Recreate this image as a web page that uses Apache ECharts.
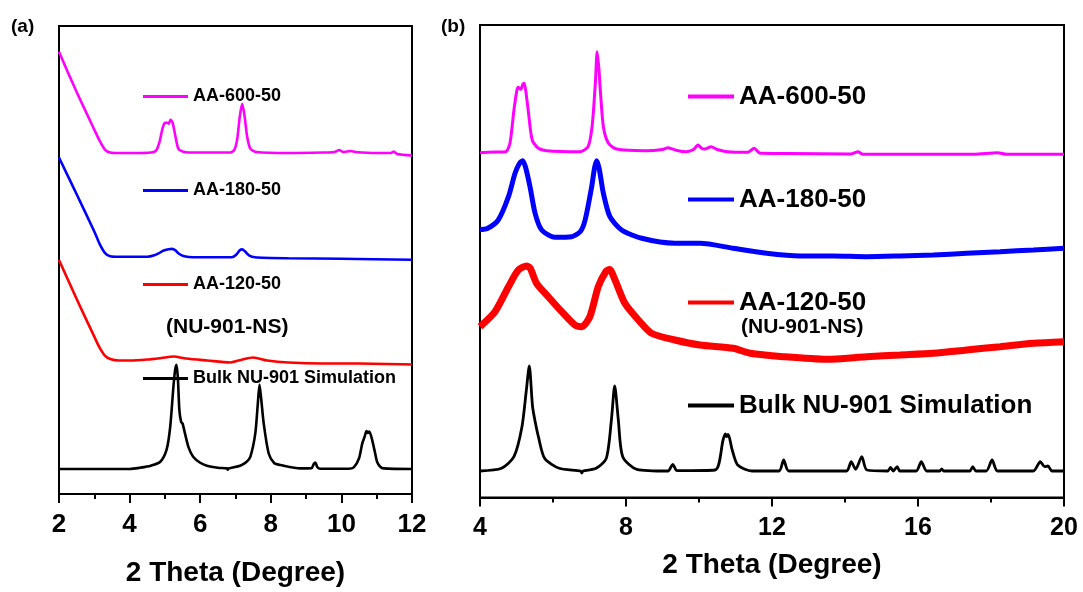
<!DOCTYPE html>
<html>
<head>
<meta charset="utf-8">
<script src="https://cdn.jsdelivr.net/npm/echarts@6/dist/echarts.min.js"></script>
<style>
html,body{margin:0;padding:0;background:#fff;}
#c{width:1083px;height:592px;}
</style>
</head>
<body>
<div id="c"></div>
<script>
// ---------- DATA ----------
const seriesNames = ['AA-600-50', 'AA-180-50', 'AA-120-50', 'Bulk NU-901 Simulation'];
const subNote = '(NU-901-NS)';
const axisTitle = '2 Theta (Degree)';
const panelLabels = ['(a)', '(b)'];

// Panel (a): 2θ = 2–12, intensity (a.u., offset-stacked)
const a600 = [[2.0,445.5],[2.25,425],[2.5,405],[2.75,386],[3.0,367],[3.15,356],[3.3,347],[3.45,344],[3.7,343.5],[4.2,343.5],[4.6,344],[4.75,346],[4.85,355],[4.93,368],[5.0,374],[5.07,374],[5.11,373],[5.16,377],[5.22,374],[5.3,360],[5.38,348],[5.5,345],[5.7,344],[6.5,344],[6.85,344],[6.97,347],[7.05,358],[7.12,380],[7.19,393],[7.26,380],[7.33,360],[7.42,348],[7.6,344.5],[8.5,343.5],[9.5,344],[9.8,344.5],[9.94,346.5],[10.05,344.5],[10.15,345],[10.26,345.5],[10.4,344.5],[11.0,343.5],[11.4,343.5],[11.48,345],[11.58,342.5],[12.0,341]];
const a180 = [[2.0,339],[2.5,302],[3.0,264.5],[3.15,252],[3.3,243],[3.45,239.5],[3.7,239],[4.5,239],[4.7,240.5],[4.85,243],[4.95,245],[5.1,246.5],[5.2,247],[5.3,245.5],[5.4,242],[5.55,239.5],[5.8,238.5],[6.9,238.5],[7.02,241],[7.12,245.5],[7.19,246.5],[7.28,244],[7.38,240.5],[7.55,238.5],[8.5,237.5],[10,237],[12,236]];
const a120 = [[2.0,235.8],[2.5,196.5],[3.0,158.5],[3.15,147.5],[3.3,139.5],[3.45,136],[3.7,134.5],[4.0,134.5],[4.5,135.5],[4.9,137],[5.25,138.5],[5.6,136.5],[6.2,134.5],[6.85,132.5],[7.2,135.5],[7.5,137.5],[7.9,134.5],[8.5,132.5],[9.5,131.5],[10.5,131.5],[12,130.5]];
const aSim = [[2.0,25.2],[4.0,25.2],[4.3,26.5],[4.6,28.5],[4.87,32.5],[5.05,45],[5.15,67.5],[5.24,107.5],[5.29,125],[5.33,130.2],[5.37,115],[5.41,84.5],[5.46,72.5],[5.5,71],[5.57,60.8],[5.67,47],[5.8,37.5],[6.0,31.5],[6.19,28.5],[6.5,26.5],[6.76,25.8],[6.78,24.5],[6.8,25.8],[7.13,28.5],[7.3,32],[7.42,37.5],[7.56,60.8],[7.63,90],[7.68,110.2],[7.73,95],[7.8,70.8],[7.94,40.8],[8.1,31],[8.27,29.2],[8.84,25.8],[9.15,26],[9.22,30.5],[9.26,31.8],[9.32,27],[9.4,25.5],[10.2,25.5],[10.35,26.8],[10.5,36],[10.59,50.8],[10.66,58],[10.71,63.5],[10.75,61.5],[10.79,63],[10.86,56],[10.95,42],[11.01,32.5],[11.1,27.5],[11.2,25.8],[12.0,25.2]];

// Panel (b): 2θ = 4–20
const b600 = [[4.0,344.8],[4.4,345.5],[4.7,345.8],[4.82,354.2],[4.93,387.5],[5.0,405],[5.04,410.2],[5.12,408.2],[5.17,413],[5.21,414.2],[5.26,405],[5.32,387.5],[5.43,357.5],[5.6,349.2],[5.83,346.8],[6.73,345.8],[6.96,350.8],[7.07,370.8],[7.16,414.2],[7.21,445.8],[7.26,428],[7.29,410.8],[7.38,370.8],[7.52,354.2],[7.74,348.5],[8.53,346.8],[9.0,348],[9.15,349.8],[9.4,347],[9.65,345.8],[9.85,348],[9.97,352.5],[10.08,349],[10.16,348.5],[10.33,350.8],[10.5,348],[10.78,345.8],[11.34,345.2],[11.51,349.2],[11.68,344.2],[12.5,344],[14.15,343.5],[14.36,345.8],[14.49,343.2],[16,343.2],[17.53,343.2],[18.18,344.8],[18.43,343.2],[20.0,343.2]];
const b180 = [[4.0,268],[4.2,269],[4.5,277.5],[4.78,300.8],[4.96,324.2],[5.08,334],[5.17,336.8],[5.25,330],[5.37,310.8],[5.51,284.2],[5.69,267.5],[6.05,260.2],[6.51,260.8],[6.75,266],[6.88,277.5],[7.06,310.8],[7.14,330],[7.2,336.8],[7.27,328],[7.38,304.2],[7.56,280.8],[7.88,267.5],[8.43,259.2],[9.34,254.2],[10.03,254.2],[10.94,249.2],[11.85,244.2],[12.77,241.5],[13.68,241.5],[14.59,240.8],[15.51,241.5],[16.42,242.5],[17.33,244.2],[18.25,245.8],[19.16,247.5],[20.0,249.2]];
const b120 = [[4.0,170.8],[4.41,185.8],[4.78,210.8],[5.05,227.5],[5.28,231.5],[5.38,229],[5.55,214.2],[5.87,200.8],[6.24,185.8],[6.6,172.5],[6.79,170.8],[7.01,180.8],[7.24,210.8],[7.45,226],[7.55,228],[7.7,217.5],[7.97,194.2],[8.34,177.5],[8.7,164.2],[9.34,157.5],[10.03,152.5],[10.94,149.2],[11.4,144.2],[12.31,140.8],[13.5,138.2],[14.59,140.8],[15.51,142.5],[16.42,144.2],[17.33,147.5],[18.25,150.8],[19.16,154.2],[20.0,155.8]];
const bSim = [[4.0,26.5],[4.59,29.2],[4.93,40.8],[5.15,70.8],[5.27,107.5],[5.35,131.5],[5.44,90.8],[5.52,74.2],[5.6,60.8],[5.77,39.2],[6.17,29.2],[6.76,26.5],[6.79,24.5],[6.82,26.5],[7.18,29.2],[7.46,39.2],[7.6,77.5],[7.69,111.5],[7.79,77.5],[7.91,40.8],[8.3,28.2],[9.15,26.5],[9.28,33.2],[9.4,26.8],[10.44,27.5],[10.66,57.5],[10.72,63.5],[10.76,61],[10.8,63],[10.91,47.5],[11.06,32.5],[11.45,26.5],[12.19,26.5],[12.32,37.5],[12.46,26.5],[14.04,26.5],[14.17,35.8],[14.29,28.2],[14.46,40.8],[14.6,27.5],[15.17,26.5],[15.25,30.2],[15.32,26.5],[15.43,30.8],[15.5,26.5],[15.95,26.5],[16.09,35.8],[16.24,26.5],[16.6,26.5],[16.65,28.5],[16.7,26.5],[17.42,26.5],[17.5,30.8],[17.59,26.5],[17.87,26.5],[18.03,37.5],[18.18,26.5],[19.16,26.5],[19.35,35.8],[19.47,30.8],[19.56,31.5],[19.67,26.5],[20.0,26.5]];

const panelA = [a600, a180, a120, aSim];
const panelB = [b600, b180, b120, bSim];

// ---------- STYLE ----------
const FONT = 'Liberation Sans, Arial, Helvetica, sans-serif';
const colors = ['#ff00ff', '#0000ff', '#ff0000', '#000000'];
const widthsA = [2.6, 2.6, 2.6, 2.6];
const widthsB = [3, 5, 7, 2.8];

const chart = echarts.init(document.getElementById('c'), null, {renderer: 'canvas'});

function xAxisFor(gridIndex, min, max, interval, labelSize, nameGap) {
  return {
    type: 'value', gridIndex, min, max, interval,
    name: axisTitle, nameLocation: 'middle', nameGap,
    nameTextStyle: {fontFamily: FONT, fontWeight: 'bold', fontSize: 28, color: '#000'},
    axisLine: {show: true, onZero: false, lineStyle: {color: '#000', width: 2}},
    axisTick: {show: true, inside: false, length: 9, lineStyle: {color: '#000', width: 2}},
    minorTick: {show: true, splitNumber: 2, length: 5, lineStyle: {color: '#000', width: 2}},
    axisLabel: {margin: 18, fontFamily: FONT, fontWeight: 'bold', fontSize: labelSize, color: '#000'},
    splitLine: {show: false}
  };
}
function yAxisFor(gridIndex, max) {
  return {type: 'value', gridIndex, min: 0, max, show: false, splitLine: {show: false}};
}

const series = [];
panelA.forEach((d, i) => series.push({
  name: seriesNames[i], type: 'line', xAxisIndex: 0, yAxisIndex: 0, data: d,
  showSymbol: false, smooth: 0.25, color: colors[i],
  lineStyle: {color: colors[i], width: widthsA[i]}, z: 3 + i
}));
panelB.forEach((d, i) => series.push({
  name: seriesNames[i], type: 'line', xAxisIndex: 1, yAxisIndex: 1, data: d,
  showSymbol: false, smooth: 0.25, color: colors[i],
  lineStyle: {color: colors[i], width: widthsB[i]}, z: 3 + i
}));

const option = {
  backgroundColor: '#fff',
  animation: false,
  grid: [
    {left: 59, right: 671, top: 26, bottom: 94.5, show: true, borderColor: '#000', borderWidth: 2, backgroundColor: 'transparent'},
    {left: 480, right: 19, top: 25, bottom: 94.5, show: true, borderColor: '#000', borderWidth: 2, backgroundColor: 'transparent'}
  ],
  xAxis: [
    xAxisFor(0, 2, 12, 2, 26, 65),
    xAxisFor(1, 4, 20, 4, 25, 54)
  ],
  yAxis: [yAxisFor(0, 471.5), yAxisFor(1, 472.5)],
  legend: [
    {data: seriesNames, orient: 'vertical', left: 143, top: 87.5, padding: 0, itemGap: 76,
     itemWidth: 45, itemHeight: 3, icon: 'rect', selectedMode: false,
     textStyle: {fontFamily: FONT, fontWeight: 'bold', fontSize: 18, color: '#000'}},
    {data: seriesNames, orient: 'vertical', left: 688, top: 83.5, padding: 0, itemGap: 77,
     itemWidth: 46, itemHeight: 4, icon: 'rect', selectedMode: false,
     textStyle: {fontFamily: FONT, fontWeight: 'bold', fontSize: 26, color: '#000'}}
  ],
  graphic: [
    {type: 'text', left: 11, top: 17, style: {text: panelLabels[0], font: 'bold 19px ' + FONT, fill: '#000'}},
    {type: 'text', left: 441, top: 17, style: {text: panelLabels[1], font: 'bold 19px ' + FONT, fill: '#000'}},
    {type: 'text', left: 166, top: 317, style: {text: subNote, font: 'bold 21px ' + FONT, fill: '#000'}},
    {type: 'text', left: 741, top: 317, style: {text: subNote, font: 'bold 21px ' + FONT, fill: '#000'}}
  ],
  series
};
chart.setOption(option);
</script>
</body>
</html>
